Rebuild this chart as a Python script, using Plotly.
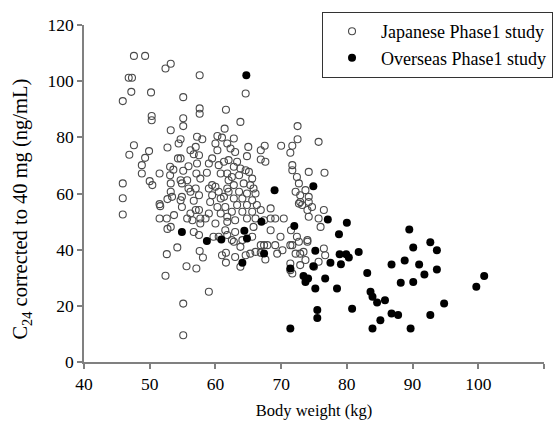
import plotly.graph_objects as go

# Japanese Phase1 study (open circles): body weight (kg), C24 (ng/mL)
jp_weight = [
    47.6, 49.3, 52.4, 53.2, 57.6, 46.8, 47.3, 47.2, 50.2, 45.9, 55.1, 57.6, 57.6, 61.6, 50.3, 50.3,
    55.1, 55.1, 53.2, 61.4, 57.2, 58.0, 60.3, 61.0, 54.7,
    47.6, 46.9, 49.9, 49.3, 48.8, 48.8, 50.0, 50.4, 51.5, 45.9, 45.9, 45.9, 52.7, 54.4, 53.1, 53.6,
    53.1, 53.2, 53.2, 53.4, 52.7, 51.5, 51.6, 51.5, 52.6, 53.7, 52.7, 53.2, 54.3, 54.7, 55.1, 55.9,
    54.7, 54.9, 54.9, 54.7, 54.9, 56.2, 57.0, 56.7, 57.5, 57.2, 57.1, 57.7, 58.7, 59.0, 59.5, 60.0,
    60.3, 61.8, 61.3, 60.5, 60.8, 61.8, 62.0, 55.7, 55.9, 56.2, 57.0, 57.5, 56.7, 57.0, 57.5, 56.2,
    55.7, 56.5, 57.7, 57.7, 58.5, 59.0, 59.2, 59.5, 59.0, 59.5, 60.0, 60.5, 60.8, 60.3, 60.8, 60.0,
    61.3, 61.5, 61.8, 61.8, 61.8, 54.2, 56.7, 57.5, 59.7, 60.5, 61.5, 61.8,
    52.6, 57.6, 58.1, 55.6, 57.1, 52.4, 59.0, 55.1, 55.1, 61.0, 61.6, 61.6,
    64.6, 63.8, 72.5, 62.8, 72.5, 75.7,
    65.0, 66.9, 67.5, 70.0, 71.7, 71.4, 66.9, 67.6, 64.8, 62.3, 63.0, 62.0, 63.3, 62.8, 63.8, 64.6,
    62.5, 63.6, 65.1, 65.6, 62.8, 64.3, 65.3, 65.8, 62.0, 63.6, 64.8, 66.1, 62.8, 64.1, 65.6, 63.3,
    64.8, 66.3, 62.5, 64.1, 65.6, 66.9, 63.0, 64.8, 66.1, 67.4, 63.0, 65.8, 62.5, 64.1, 65.6, 66.9,
    68.4, 68.4, 69.1, 70.4, 68.4, 69.9, 69.1, 71.4, 72.4, 74.0, 71.5, 71.7, 71.7, 72.4, 72.7, 72.2,
    72.9, 72.9, 74.2, 74.2, 74.2, 74.7, 74.0, 74.2, 75.7, 76.0, 76.5, 76.6, 73.7, 72.7, 73.2,
    62.8, 63.8, 63.0, 63.8, 64.6, 65.3, 66.1, 66.9, 67.4, 67.9, 67.6, 69.4, 70.2, 71.7, 72.2, 72.9,
    73.4, 74.0, 72.7, 71.4, 71.7, 71.4, 72.9, 73.7, 75.0, 75.7, 76.5, 76.7,
]
jp_conc = [
    109.0, 109.0, 104.5, 106.2, 102.1, 101.2, 101.2, 96.2, 96.0, 92.9, 94.3, 90.3, 88.4, 89.8, 87.6, 86.1,
    86.8, 84.0, 82.5, 83.1, 80.2, 79.3, 80.5, 79.9, 79.3,
    77.2, 73.8, 75.1, 72.7, 70.1, 67.1, 64.4, 63.0, 67.1, 63.6, 58.3, 52.5, 76.4, 77.8, 69.5, 68.5,
    66.5, 63.6, 60.6, 58.8, 58.0, 56.2, 55.5, 51.1, 51.1, 52.3, 47.4, 48.1, 72.5, 72.5, 68.1, 69.7,
    64.7, 63.6, 58.8, 57.6, 55.2, 75.4, 76.6, 74.0, 73.6, 70.7, 67.1, 65.3, 67.4, 70.7, 72.5, 77.8,
    75.4, 77.8, 71.3, 70.1, 67.1, 67.1, 64.7, 64.7, 61.8, 60.6, 61.8, 59.4, 57.4, 54.1, 54.1, 52.9,
    51.1, 50.5, 51.1, 49.3, 51.1, 52.9, 57.0, 59.4, 61.8, 63.0, 62.4, 60.6, 58.2, 55.2, 52.9, 49.3,
    58.8, 55.2, 51.7, 61.8, 49.9, 40.8, 46.3, 45.2, 44.6, 44.6, 46.9, 45.2,
    38.4, 39.5, 37.2, 34.1, 33.3, 30.7, 25.0, 20.8, 9.5, 38.0, 38.9, 35.4,
    95.6, 85.5, 84.0, 79.6, 79.3, 78.4,
    76.6, 75.4, 77.0, 77.0, 77.0, 74.5, 72.1, 71.3, 73.3, 76.0, 74.8, 71.9, 71.3, 69.5, 68.9, 68.3,
    65.9, 66.5, 67.7, 65.3, 63.0, 63.6, 63.0, 61.8, 60.6, 60.6, 60.0, 60.0, 58.2, 58.2, 57.6, 55.9,
    55.9, 55.9, 53.5, 53.5, 53.5, 54.1, 50.5, 51.1, 51.1, 50.5, 46.3, 48.1, 43.4, 43.4, 44.6, 41.6,
    54.7, 51.1, 51.1, 51.1, 46.9, 44.6, 41.6, 41.6, 44.6, 43.4, 46.9, 70.1, 68.3, 65.9, 63.6, 60.6,
    59.4, 57.0, 67.7, 58.8, 57.0, 55.2, 54.1, 51.7, 51.1, 48.1, 54.1, 67.4, 61.2, 56.4, 55.9,
    42.8, 41.0, 37.4, 33.9, 38.0, 38.6, 39.2, 38.9, 41.6, 41.6, 36.5, 38.6, 39.8, 41.6, 38.6, 38.6,
    39.2, 42.8, 42.8, 35.1, 31.5, 32.7, 34.5, 36.3, 33.9, 35.7, 40.4, 38.0,
]

# Overseas Phase1 study (filled circles)
os_weight = [
    54.9, 58.7, 60.9, 64.7, 69.0, 74.9, 67.0, 64.4, 72.0, 77.1, 80.0, 78.8, 64.8,
    64.1, 67.4, 71.4, 73.4, 74.1, 73.7, 75.2, 74.9, 75.2, 76.7, 77.5, 78.5, 78.9, 79.1, 79.9, 80.3,
    81.8, 83.1, 80.8, 75.5, 75.5, 71.4,
    89.5, 92.7, 90.1, 93.7,
    86.8, 88.8, 91.0, 91.8, 93.7, 88.2, 90.1, 83.6, 83.9, 84.6, 85.8, 94.8, 86.8, 87.8, 92.7, 85.1,
    83.9, 89.7, 99.7, 100.9,
]
os_conc = [
    46.3, 43.1, 43.6, 102.1, 61.2, 62.6, 49.9, 46.7, 48.4, 50.7, 49.6, 45.5, 44.0,
    35.3, 38.6, 33.3, 30.6, 29.7, 28.5, 39.6, 34.1, 26.2, 29.7, 35.3, 26.2, 38.4, 34.8, 38.4, 37.2,
    39.2, 31.7, 19.0, 18.5, 15.7, 11.9,
    47.2, 42.6, 40.8, 39.8,
    34.7, 36.1, 34.7, 31.2, 32.9, 28.2, 28.5, 25.0, 23.2, 21.2, 22.0, 20.8, 17.3, 16.7, 16.7, 14.9,
    11.9, 11.9, 26.8, 30.6,
]

x_ticks = [40, 50, 60, 70, 80, 90, 100, 110]
y_ticks = [0, 20, 40, 60, 80, 100, 120]

FONT = "Liberation Serif, Times New Roman, serif"

fig = go.Figure()
fig.add_trace(go.Scatter(
    x=jp_weight, y=jp_conc, mode="markers", name="Japanese Phase1 study",
    marker=dict(symbol="circle-open", size=7, color="#4a4a4a", line=dict(width=1.1)),
))
fig.add_trace(go.Scatter(
    x=os_weight, y=os_conc, mode="markers", name="Overseas Phase1 study",
    marker=dict(symbol="circle", size=8, color="#000000", line=dict(width=0)),
))

axis_common = dict(
    showgrid=False, zeroline=False, showline=True, linecolor="#808080", linewidth=1.5,
    ticks="outside", ticklen=5, tickcolor="#808080", tickwidth=1.5, automargin=False,
    tickfont=dict(family=FONT, size=17.5, color="#000"),
)
fig.update_xaxes(range=[40, 110], tickvals=x_ticks, ticktext=[str(v) for v in x_ticks],
                 title=dict(text="Body weight (kg)", font=dict(family=FONT, size=16.5, color="#000"), standoff=12),
                 **axis_common)
fig.update_yaxes(range=[0, 120], tickvals=y_ticks, ticktext=[str(v) for v in y_ticks],
                 **axis_common)

fig.add_annotation(
    text="C<sub>24</sub> corrected to 40 mg (ng/mL)",
    xref="paper", yref="paper", x=-0.135, y=0.455,
    xanchor="center", yanchor="middle", textangle=-90, showarrow=False,
    font=dict(family=FONT, size=20.5, color="#000"),
)

fig.update_layout(
    width=557, height=425,
    margin=dict(l=84, r=13, t=25, b=63, autoexpand=False),
    paper_bgcolor="white", plot_bgcolor="white",
    showlegend=True,
    legend=dict(x=0.517, y=1.039, xanchor="left", yanchor="top",
                bordercolor="#333333", borderwidth=1.2, bgcolor="white",
                font=dict(family=FONT, size=18, color="#000"), itemwidth=48,
                tracegroupgap=0),
    font=dict(family=FONT),
)

fig.write_html("out.html")
